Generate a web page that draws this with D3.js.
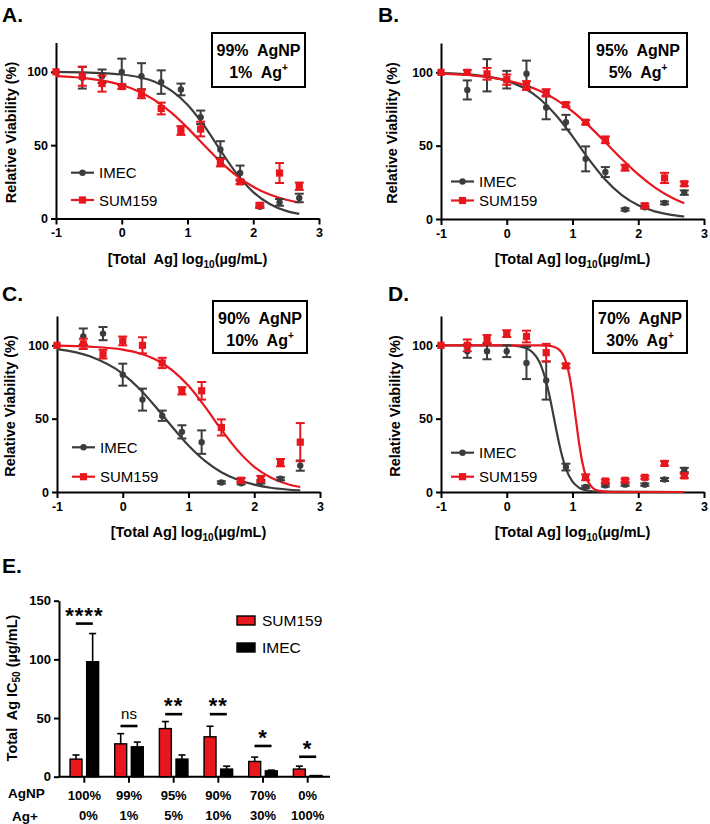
<!DOCTYPE html>
<html>
<head>
<meta charset="utf-8">
<script src="https://cdn.jsdelivr.net/npm/d3@7"></script>
<style>
  body { margin: 0; background: #fff; }
  svg text { font-family: "Liberation Sans", Arial, sans-serif; white-space: pre; }
  .axis path, .axis line { stroke: #000; stroke-width: 2px; }
</style>
</head>
<body>
<div id="chart"></div>
<script>

// ---- dose response data (log10 total Ag, µg/mL) ----
const logConc = [-1, -0.6, -0.3, 0, 0.3, 0.6, 0.9, 1.2, 1.5, 1.8, 2.1, 2.4, 2.7];
const fitX = [-1, -0.5, 0, 0.25, 0.5, 0.75, 1, 1.25, 1.5, 1.75, 2, 2.25, 2.5, 2.7];

// A: 99% AgNP / 1% Ag+
const imecA = [100, 96, 97, 100, 97, 93, 88, 69, 47, 31, 8, 11, 14];
const imecErrA = [0, 7.4, 4.6, 9, 8.9, 8, 4, 4.6, 5.7, 5.1, 0.8, 2.3, 2.9];
const sumA = [100, 97, 92, 90, 85, 75, 60, 61, 38, 25, 9, 31, 22];
const sumErrA = [0, 6.5, 5.5, 1.6, 3, 4, 3, 5, 2.5, 1.5, 1.5, 6.8, 2.5];
const imecFitA = [100, 99.5, 98.2, 96.5, 93.3, 87.4, 77.6, 63.5, 46.6, 30.4, 18, 9.9, 5.2, 3.1];
const sumFitA = [97.1, 95.4, 91, 86.8, 80.7, 72.3, 61.8, 50.1, 38.8, 29.1, 21.6, 16.3, 12.8, 10.9];

// B: 95% AgNP / 5% Ag+
const imecB = [100, 88, 98, 95, 99, 76, 66, 41, 32, 6.5, 8, 11, 18];
const imecErrB = [0, 6.5, 11, 6, 9, 8, 5, 8.5, 3.4, 0.8, 0.8, 1, 1.5];
const sumB = [100, 100, 99, 95, 91, 86, 78, 66, 54, 35, 9, 28, 24];
const sumErrB = [0, 1.5, 4, 3.5, 3, 2.5, 1.5, 1.5, 2.3, 2, 1.5, 3.5, 1.5];
const imecFitB = [99.5, 98.3, 94.2, 89.6, 82, 70.8, 56.3, 40.6, 26.7, 16.2, 9.3, 5.2, 2.8, 1.7];
const sumFitB = [99.1, 97.8, 94.6, 91.6, 87.4, 81.4, 73.4, 63.5, 52.3, 40.9, 30.4, 21.6, 14.8, 10.7];

// C: 90% AgNP / 10% Ag+
const imecC = [100, 106, 108, 80, 63, 52, 41, 34, 6.5, 6, 7, 9, 18];
const imecErrC = [0, 5.5, 4.5, 7.5, 7.5, 3.5, 4.5, 8, 0.8, 0.8, 1.2, 1, 3.5];
const sumC = [100, 101, 94, 103, 100, 88, 69, 69, 44, 8, 9, 20, 34];
const sumErrC = [0, 3.5, 3, 3, 5.5, 3.5, 2.5, 6, 5.5, 1.5, 2, 2.5, 13];
const imecFitC = [97.4, 92.5, 80.6, 70.6, 58.1, 44.5, 31.7, 21.2, 13.5, 8.3, 5, 2.9, 1.7, 1.1];
const sumFitC = [99.8, 99.1, 97.1, 94.6, 90.3, 83.1, 72.4, 58.2, 42.5, 28.2, 17.2, 9.9, 5.5, 3.4];

// D: 70% AgNP / 30% Ag+
const imecD = [100, 96, 96, 96, 88, 76, 17, 3.5, 4.5, 5, 5, 8.5, 15];
const imecErrD = [0, 4.5, 5.5, 4, 11, 13, 2.3, 0.8, 0.8, 0.8, 0.8, 1, 1.5];
const sumD = [100, 100, 104, 108, 106, 95, 86, 10, 7.5, 8, 10, 19.5, 11];
const sumErrD = [0, 4, 3, 2.3, 4, 6, 1.5, 2, 1, 1, 1, 1.5, 1.5];
const imecFitXD = [-1, 0, 0.2, 0.3, 0.4, 0.5, 0.6, 0.65, 0.7, 0.75, 0.8, 0.85, 0.9, 1.0, 1.1, 1.2, 1.4, 2.7];
const imecFitD = [100, 100, 99.2, 98, 95, 88.4, 75, 65.6, 54.6, 43.1, 32.4, 23.2, 16, 7, 2.9, 1.2, 0.2, 0];
const sumFitXD = [-1, 0.5, 0.6, 0.7, 0.8, 0.85, 0.9, 0.95, 1.0, 1.05, 1.1, 1.15, 1.2, 1.3, 1.4, 1.6, 2.7];
const sumFitD = [100, 100, 99.8, 99.2, 96.9, 94.1, 88.8, 79.9, 66.6, 50, 33.4, 20.1, 11.2, 3.1, 0.8, 0, 0];

const panelLetters = ["A.", "B.", "C.", "D."];
const agnpPct = ["99%", "95%", "90%", "70%"];
const agPct = ["1%", "5%", "10%", "30%"];
const yTicksDose = [0, 50, 100];
const xTicksDose = [-1, 0, 1, 2, 3];

// ---- E: IC50 bars ----
const mixAgNP = ["100%", "99%", "95%", "90%", "70%", "0%"];
const mixAg = ["0%", "1%", "5%", "10%", "30%", "100%"];
const ic50Sum = [15, 28, 41, 34, 13, 6.5];
const ic50SumErr = [3.5, 8.7, 6, 9, 3.7, 2.5];
const ic50Imec = [98, 25.5, 15, 6.5, 5, 1];
const ic50ImecErr = [24, 4, 3.5, 2.5, 0.6, 0];
const sigText = ["****", "ns", "**", "**", "*", "*"];
const sigLevel = [130.5, 43.2, 53.3, 53.3, 26.2, 17];
const yTicksIC = [0, 50, 100, 150];

const RED = "#e8161d", GRAY = "#3c3c3c";

let svg = d3.select("#chart").append("svg")
    .attr("width", 710)
    .attr("height", 824);

// bold tick labels, plain hyphen for negatives
function styleTicks(sel, size) {
    sel.selectAll("text")
        .style("font-size", size + "px")
        .style("font-weight", "bold")
        .attr("fill", "#000");
}


class DoseVis {

    constructor(_svg, _cfg) {
        this.svg = _svg;
        this.cfg = _cfg;
        this.initVis();
    }

    initVis() {
        let vis = this;
        let c = vis.cfg;

        vis.width = 263;
        vis.height = 176;

        vis.g = vis.svg.append("g")
            .attr("transform", "translate(" + c.left + "," + c.top + ")");

        vis.x = d3.scaleLinear().domain([-1, 3]).range([0, vis.width]);
        vis.y = d3.scaleLinear().domain([0, 120]).range([vis.height, 0]);

        vis.g.append("g")
            .attr("class", "axis")
            .attr("transform", "translate(0," + vis.height + ")")
            .call(d3.axisBottom(vis.x).tickValues(xTicksDose).tickFormat(d => String(d))
                .tickSize(6).tickSizeOuter(0).tickPadding(4))
            .call(styleTicks, 12.5);

        vis.g.append("g")
            .attr("class", "axis")
            .call(d3.axisLeft(vis.y).tickValues(yTicksDose).tickSize(5).tickSizeOuter(0).tickPadding(3))
            .call(styleTicks, 12.5);

        // axis titles
        let xt = vis.g.append("text")
            .attr("x", vis.width / 2)
            .attr("y", vis.height + 45)
            .attr("text-anchor", "middle")
            .style("font-size", "14.5px")
            .style("font-weight", "bold")
            .text(c.xTitle);
        xt.append("tspan").attr("dy", 4).style("font-size", "10px").text("10");
        xt.append("tspan").attr("dy", -4).text("(µg/mL)");

        vis.g.append("text")
            .attr("transform", "translate(" + c.yTitleX + "," + (vis.height / 2 + 2) + ") rotate(-90)")
            .attr("text-anchor", "middle")
            .attr("dy", "0.35em")
            .style("font-size", "14.5px")
            .style("font-weight", "bold")
            .text("Relative Viability (%)");

        // panel letter
        vis.svg.append("text")
            .attr("x", c.letterX)
            .attr("y", c.letterY)
            .style("font-size", "21px")
            .style("font-weight", "bold")
            .text(c.letter);

        vis.updateVis();
    }

    updateVis() {
        let vis = this;
        let c = vis.cfg;

        let line = d3.line()
            .x(d => vis.x(d[0]))
            .y(d => vis.y(d[1]))
            .curve(d3.curveMonotoneX);

        // fitted curves first
        c.series.forEach(s => {
            vis.g.append("path")
                .datum(d3.zip(s.fitX, s.fit))
                .attr("fill", "none")
                .attr("stroke", s.color)
                .attr("stroke-width", 2.2)
                .attr("d", line);
        });

        // points with error bars
        c.series.forEach(s => {
            let pts = logConc.map((xv, i) => ({x: xv, v: s.values[i], e: s.errors[i]}));
            let grp = vis.g.append("g");

            let eb = grp.selectAll(".err").data(pts.filter(d => d.e > 0)).enter().append("g")
                .attr("stroke", s.color)
                .attr("stroke-width", 2);
            eb.append("line")
                .attr("x1", d => vis.x(d.x)).attr("x2", d => vis.x(d.x))
                .attr("y1", d => vis.y(d.v - d.e)).attr("y2", d => vis.y(d.v + d.e));
            eb.append("line")
                .attr("x1", d => vis.x(d.x) - 4.5).attr("x2", d => vis.x(d.x) + 4.5)
                .attr("y1", d => vis.y(d.v + d.e)).attr("y2", d => vis.y(d.v + d.e));
            eb.append("line")
                .attr("x1", d => vis.x(d.x) - 4.5).attr("x2", d => vis.x(d.x) + 4.5)
                .attr("y1", d => vis.y(d.v - d.e)).attr("y2", d => vis.y(d.v - d.e));

            vis.drawMarker(grp.selectAll(".pt").data(pts).enter(), s,
                d => vis.x(d.x), d => vis.y(d.v));
        });

        // legend
        c.series.forEach((s, i) => {
            let ly = c.legendY[i];
            let lg = vis.svg.append("g");
            lg.append("line")
                .attr("x1", c.legendX).attr("x2", c.legendX + 23)
                .attr("y1", ly).attr("y2", ly)
                .attr("stroke", s.color).attr("stroke-width", 2.2);
            vis.drawMarker(lg.selectAll(".lm").data([0]).enter(), s,
                () => c.legendX + 11.5, () => ly);
            lg.append("text")
                .attr("x", c.legendX + 28)
                .attr("y", ly + 5.5)
                .style("font-size", "15px")
                .text(s.name);
        });

        // composition box
        let b = c.box;
        vis.svg.append("rect")
            .attr("x", b[0]).attr("y", b[1])
            .attr("width", b[2]).attr("height", b[3])
            .attr("fill", "#fff")
            .attr("stroke", "#000")
            .attr("stroke-width", 2);
        vis.svg.append("text")
            .attr("x", b[0] + b[2] / 2)
            .attr("y", b[1] + 23)
            .attr("text-anchor", "middle")
            .style("font-size", "16px")
            .style("font-weight", "bold")
            .text(c.agnp + "  AgNP");
        let t2 = vis.svg.append("text")
            .attr("x", b[0] + b[2] / 2)
            .attr("y", b[1] + 45)
            .attr("text-anchor", "middle")
            .style("font-size", "16px")
            .style("font-weight", "bold")
            .text(c.ag + "  Ag");
        t2.append("tspan").attr("dy", -7).style("font-size", "10px").text("+");
    }

    drawMarker(sel, s, fx, fy) {
        if (s.shape === "circle") {
            sel.append("circle")
                .attr("cx", fx).attr("cy", fy)
                .attr("r", 3.2)
                .attr("fill", s.color);
        } else {
            sel.append("rect")
                .attr("x", d => fx(d) - 3.6).attr("y", d => fy(d) - 3.6)
                .attr("width", 7.2).attr("height", 7.2)
                .attr("fill", s.color);
        }
    }
}

function seriesPair(iv, ie, ifx, ifit, sv, se, sfx, sfit) {
    return [
        {name: "IMEC", color: GRAY, shape: "circle", values: iv, errors: ie, fitX: ifx, fit: ifit},
        {name: "SUM159", color: RED, shape: "square", values: sv, errors: se, fitX: sfx, fit: sfit}
    ];
}

new DoseVis(svg, {
    left: 56, top: 42.5, letter: panelLetters[0], letterX: 2, letterY: 22,
    xTitle: "[Total  Ag] log", yTitleX: -45,
    legendX: 71, legendY: [172.7, 200],
    box: [212, 33, 93, 54], agnp: agnpPct[0], ag: agPct[0],
    series: seriesPair(imecA, imecErrA, fitX, imecFitA, sumA, sumErrA, fitX, sumFitA)
});
new DoseVis(svg, {
    left: 441, top: 43, letter: panelLetters[1], letterX: 378, letterY: 22,
    xTitle: "[Total Ag] log", yTitleX: -49,
    legendX: 451, legendY: [181.5, 200.5],
    box: [589, 33, 98, 54], agnp: agnpPct[1], ag: agPct[1],
    series: seriesPair(imecB, imecErrB, fitX, imecFitB, sumB, sumErrB, fitX, sumFitB)
});
new DoseVis(svg, {
    left: 57, top: 316, letter: panelLetters[2], letterX: 2, letterY: 301,
    xTitle: "[Total Ag] log", yTitleX: -47,
    legendX: 72, legendY: [447.3, 476.7],
    box: [213, 301, 94, 52], agnp: agnpPct[2], ag: agPct[2],
    series: seriesPair(imecC, imecErrC, fitX, imecFitC, sumC, sumErrC, fitX, sumFitC)
});
new DoseVis(svg, {
    left: 441, top: 316, letter: panelLetters[3], letterX: 388, letterY: 301,
    xTitle: "[Total Ag] log", yTitleX: -46,
    legendX: 451, legendY: [452.7, 476.7],
    box: [593, 301, 94, 52], agnp: agnpPct[3], ag: agPct[3],
    series: seriesPair(imecD, imecErrD, imecFitXD, imecFitD, sumD, sumErrD, sumFitXD, sumFitD)
});


// ---------------- E: IC50 bar chart ----------------
class BarVis {

    constructor(_svg) {
        this.svg = _svg;
        this.initVis();
    }

    initVis() {
        let vis = this;

        vis.margin = {left: 59, top: 600.7};
        vis.width = 271;
        vis.height = 176;

        vis.g = vis.svg.append("g")
            .attr("transform", "translate(" + vis.margin.left + "," + vis.margin.top + ")");

        vis.x0 = d3.scaleBand()
            .domain(mixAgNP)
            .range([3, vis.width])
            .paddingInner(0.36)
            .paddingOuter(0.18);
        vis.x1 = d3.scaleBand()
            .domain(["SUM159", "IMEC"])
            .range([0, vis.x0.bandwidth()])
            .paddingInner(0.28);
        vis.y = d3.scaleLinear().domain([0, 150]).range([vis.height, 0]);

        vis.g.append("g")
            .attr("class", "axis")
            .call(d3.axisLeft(vis.y).tickValues(yTicksIC).tickSize(5).tickSizeOuter(0).tickPadding(3))
            .call(styleTicks, 13);

        let xa = vis.g.append("g")
            .attr("class", "axis")
            .attr("transform", "translate(0," + vis.height + ")")
            .call(d3.axisBottom(vis.x0).tickSize(6).tickSizeOuter(0).tickPadding(8))
            .call(styleTicks, 13);
        xa.select(".domain").attr("d", "M0,0H" + vis.width);

        // second label row
        vis.g.selectAll(".agLab").data(mixAg).enter().append("text")
            .attr("x", (d, i) => vis.x0(mixAgNP[i]) + vis.x0.bandwidth() / 2 + (i === 0 ? 4 : 0))
            .attr("y", vis.height + 43.5)
            .attr("text-anchor", "middle")
            .style("font-size", "13px")
            .style("font-weight", "bold")
            .text(d => d);

        vis.svg.append("text").attr("x", 8).attr("y", 798)
            .style("font-size", "13.5px").style("font-weight", "bold").text("AgNP");
        vis.svg.append("text").attr("x", 12).attr("y", 820.5)
            .style("font-size", "13.5px").style("font-weight", "bold").text("Ag+");

        let yt = vis.svg.append("text")
            .attr("transform", "translate(12,688) rotate(-90)")
            .attr("text-anchor", "middle")
            .attr("dy", "0.35em")
            .style("font-size", "14.5px")
            .style("font-weight", "bold")
            .text("Total  Ag IC");
        yt.append("tspan").attr("dy", 3).style("font-size", "10px").text("50");
        yt.append("tspan").attr("dy", -3).text(" (µg/mL)");

        vis.svg.append("text")
            .attr("x", 2).attr("y", 573)
            .style("font-size", "21px")
            .style("font-weight", "bold")
            .text("E.");

        vis.updateVis();
    }

    updateVis() {
        let vis = this;

        let rows = mixAgNP.map((m, i) => ({
            mix: m,
            bars: [
                {key: "SUM159", v: ic50Sum[i], e: ic50SumErr[i], fill: RED},
                {key: "IMEC", v: ic50Imec[i], e: ic50ImecErr[i], fill: "#000"}
            ],
            sig: sigText[i],
            lvl: sigLevel[i]
        }));

        let grp = vis.g.selectAll(".grp").data(rows).enter().append("g")
            .attr("transform", d => "translate(" + vis.x0(d.mix) + ",0)");

        let bar = grp.selectAll(".bar").data(d => d.bars).enter();

        bar.append("line")
            .filter(d => d.e > 0)
            .attr("x1", d => vis.x1(d.key) + vis.x1.bandwidth() / 2)
            .attr("x2", d => vis.x1(d.key) + vis.x1.bandwidth() / 2)
            .attr("y1", d => vis.y(d.v)).attr("y2", d => vis.y(d.v + d.e))
            .attr("stroke", "#000").attr("stroke-width", 1.6);
        bar.append("line")
            .filter(d => d.e > 0)
            .attr("x1", d => vis.x1(d.key) + vis.x1.bandwidth() / 2 - 3.5)
            .attr("x2", d => vis.x1(d.key) + vis.x1.bandwidth() / 2 + 3.5)
            .attr("y1", d => vis.y(d.v + d.e)).attr("y2", d => vis.y(d.v + d.e))
            .attr("stroke", "#000").attr("stroke-width", 1.6);

        bar.append("rect")
            .attr("class", "bar")
            .attr("x", d => vis.x1(d.key))
            .attr("width", vis.x1.bandwidth())
            .attr("y", d => vis.y(d.v))
            .attr("height", d => vis.height - vis.y(d.v))
            .attr("fill", d => d.fill)
            .attr("stroke", "#000")
            .attr("stroke-width", 1.4);

        // significance marks
        let cx = vis.x0.bandwidth() / 2;
        grp.append("line")
            .attr("x1", cx - 8.5).attr("x2", cx + 8.5)
            .attr("y1", d => vis.y(d.lvl)).attr("y2", d => vis.y(d.lvl))
            .attr("stroke", "#000").attr("stroke-width", 2.6);
        grp.append("text")
            .attr("x", cx)
            .attr("y", d => d.sig === "ns" ? vis.y(d.lvl) - 7 : vis.y(d.lvl) - 1)
            .attr("text-anchor", "middle")
            .style("font-size", d => d.sig === "ns" ? "15px" : "22px")
            .style("font-weight", d => d.sig === "ns" ? "normal" : "bold")
            .style("letter-spacing", d => d.sig === "ns" ? "0px" : "1px")
            .text(d => d.sig);

        // legend
        let leg = vis.svg.selectAll(".leg").data([["SUM159", RED], ["IMEC", "#000"]]).enter().append("g")
            .attr("transform", (d, i) => "translate(237," + (616 + i * 27) + ")");
        leg.append("rect")
            .attr("width", 18).attr("height", 9)
            .attr("fill", d => d[1]).attr("stroke", "#000").attr("stroke-width", 1.4);
        leg.append("text")
            .attr("x", 25).attr("y", 10)
            .style("font-size", "15.5px")
            .text(d => d[0]);
    }
}

new BarVis(svg);

</script>
</body>
</html>
